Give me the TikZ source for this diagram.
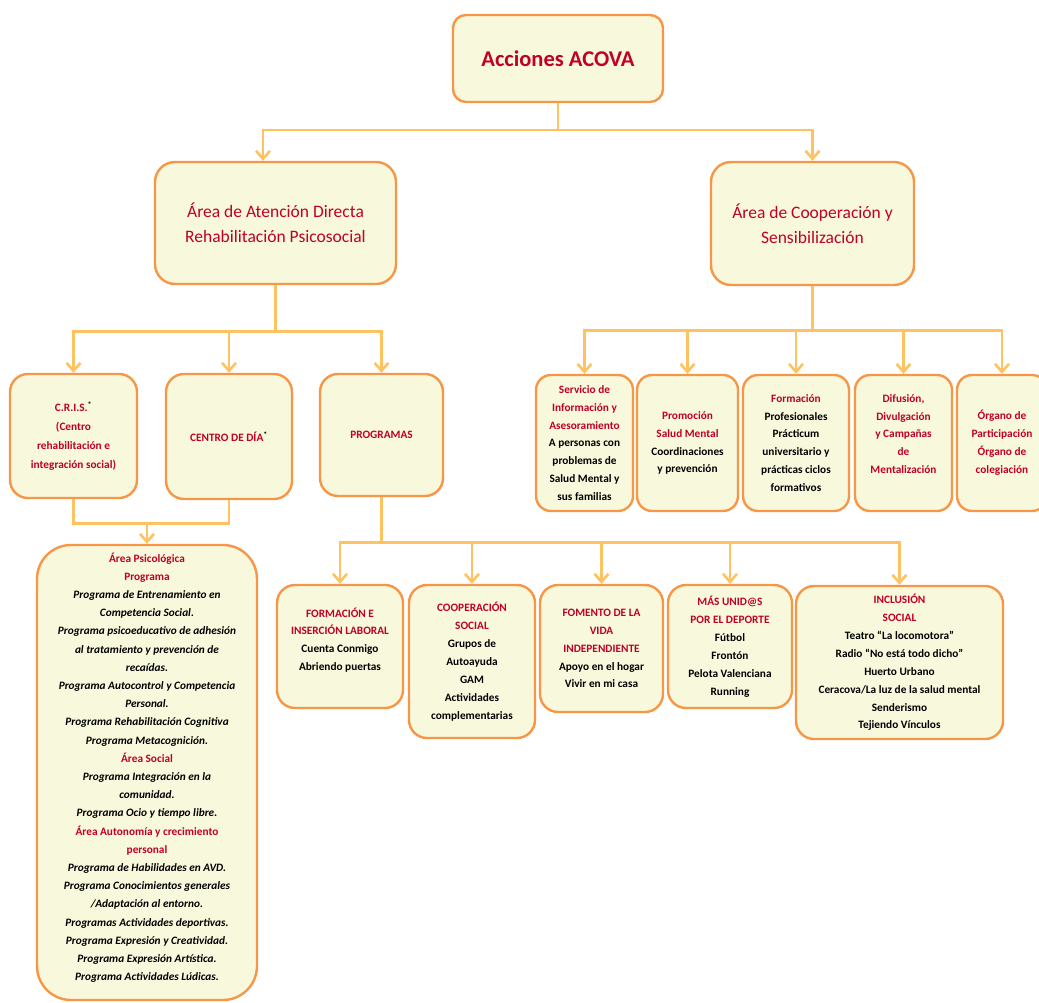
\documentclass[tikz,border=0pt]{standalone}
\usepackage{fontspec}
\setmainfont{Carlito}
\usetikzlibrary{arrows.meta,calc}
\definecolor{acfill}{RGB}{248,249,220}
\definecolor{acborder}{RGB}{247,150,70}
\definecolor{acline}{RGB}{255,194,96}
\definecolor{acred}{RGB}{192,0,36}
\newcommand{\redt}[1]{\textcolor{acred}{#1}}
\newcommand{\itl}[1]{\textit{#1}}
\tikzset{
  box/.style={draw=acborder, fill=acfill, line width=2.4pt, rounded corners=15pt,
    align=center, inner sep=2pt, font=\bfseries\fontsize{11.3}{17.9}\selectfont},
  txt/.style={align=center, inner sep=0pt, font=\bfseries\fontsize{11.3}{17.9}\selectfont},
  conn/.style={draw=acline, line width=2.6pt},
  arr/.style={conn, -{Straight Barb[length=8pt,width=14pt]}}
}
\begin{document}
\begin{tikzpicture}[x=1pt,y=-1pt]
\useasboundingbox (0,0) rectangle (1039,1003);
\clip (0,0) rectangle (1039,1003);
% top
\node[box, rounded corners=13pt, minimum width=210pt, minimum height=87pt, font=\bfseries\fontsize{22.5}{26}\selectfont, text=acred] (top) at (558,58.5) {Acciones ACOVA};
% areas
\node[box, rounded corners=20pt, minimum width=241pt, minimum height=122pt, font=\fontsize{17.5}{25}\selectfont, text=acred] (area1) at (275.5,223) {Área de Atención Directa\\Rehabilitación Psicosocial};
\node[box, rounded corners=20pt, minimum width=203pt, minimum height=123pt, font=\fontsize{17.5}{25}\selectfont, text=acred] (area2) at (812.5,223.5) {Área de Cooperación y\\Sensibilización};
% level 3 left
\node[box, rounded corners=18pt, minimum width=127pt, minimum height=124pt, text=acred, font=\bfseries\fontsize{11.3}{19}\selectfont] (cris) at (73.5,436) {C.R.I.S.\textsuperscript{\textcolor{black}{*}}\\(Centro\\rehabilitación e\\integración social)};
\node[box, rounded corners=18pt, minimum width=126pt, minimum height=125pt, text=acred] (cdia) at (229,436.5) {CENTRO DE DÍA\textsuperscript{\textcolor{black}{*}}};
\node[box, rounded corners=18pt, minimum width=123pt, minimum height=122pt, text=acred] (prog) at (381.5,435) {PROGRAMAS};
% level 3 right
\node[box, minimum width=97pt, minimum height=136pt] (serv) at (584.5,443) {\redt{Servicio de}\\\redt{Información y}\\\redt{Asesoramiento}\\A personas con\\problemas de\\Salud Mental y\\sus familias};
\node[box, minimum width=101pt, minimum height=136pt] (prom) at (687.5,443) {\redt{Promoción}\\\redt{Salud Mental}\\Coordinaciones\\y prevención};
\node[box, minimum width=106pt, minimum height=136pt] (form) at (796,443) {\redt{Formación}\\Profesionales\\Prácticum\\universitario y\\prácticas ciclos\\formativos};
\node[box, minimum width=97pt, minimum height=136pt] (difu) at (903.5,443) {};
\node[txt, text=acred] (difut) at (903.5,434) {Difusión,\\Divulgación\\y Campañas\\de\\Mentalización};
\node[box, minimum width=90pt, minimum height=136pt, text=acred] (organo) at (1002,443) {Órgano de\\Participación\\Órgano de\\colegiación};
% big left box
\node[box, rounded corners=34pt, minimum width=220pt, minimum height=455pt] (psico) at (147,772.5) {};
\node[txt, font=\bfseries\fontsize{11.3}{18.2}\selectfont] (psicot) at (147,767.5) {\redt{Área Psicológica}\\\redt{Programa}\\
\itl{Programa de Entrenamiento en}\\\itl{Competencia Social.}\\
\itl{Programa psicoeducativo de adhesión}\\\itl{al tratamiento y prevención de}\\\itl{recaídas.}\\
\itl{Programa Autocontrol y Competencia}\\\itl{Personal.}\\
\itl{Programa Rehabilitación Cognitiva}\\\itl{Programa Metacognición.}\\
\redt{Área Social}\\
\itl{Programa Integración en la}\\\itl{comunidad.}\\
\itl{Programa Ocio y tiempo libre.}\\
\redt{Área Autonomía y crecimiento}\\\redt{personal}\\
\itl{Programa de Habilidades en AVD.}\\
\itl{Programa Conocimientos generales}\\\itl{/Adaptación al entorno.}\\
\itl{Programas Actividades deportivas.}\\
\itl{Programa Expresión y Creatividad.}\\
\itl{Programa Expresión Artística.}\\
\itl{Programa Actividades Lúdicas.}};
% programs row
\node[box, rounded corners=18pt, minimum width=126pt, minimum height=123pt] (fil) at (340,646.5) {};
\node[txt] (filt) at (340,640) {\redt{FORMACIÓN E}\\\redt{INSERCIÓN LABORAL}\\Cuenta Conmigo\\Abriendo puertas};
\node[box, rounded corners=18pt, minimum width=126pt, minimum height=153pt] (coop) at (472,661.5) {\redt{COOPERACIÓN}\\\redt{SOCIAL}\\Grupos de\\Autoayuda\\GAM\\Actividades\\complementarias};
\node[box, rounded corners=18pt, minimum width=123pt, minimum height=127pt] (fom) at (601.5,648.5) {\redt{FOMENTO DE LA}\\\redt{VIDA}\\\redt{INDEPENDIENTE}\\Apoyo en el hogar\\Vivir en mi casa};
\node[box, rounded corners=18pt, minimum width=124pt, minimum height=123pt] (mas) at (730,646.5) {\redt{MÁS UNID@S}\\\redt{POR EL DEPORTE}\\Fútbol\\Frontón\\Pelota Valenciana\\Running};
\node[box, rounded corners=18pt, minimum width=207pt, minimum height=153pt] (incl) at (899.5,662.5) {\redt{INCLUSIÓN}\\\redt{SOCIAL}\\Teatro “La locomotora”\\Radio “No está todo dicho”\\Huerto Urbano\\Ceracova/La luz de la salud mental\\Senderismo\\Tejiendo Vínculos};
% connectors
\coordinate (b0) at ($(top.south)+(0,27)$);
\draw[conn] (top.south) -- (b0);
\draw[arr] (b0) -| ([xshift=-12.5pt]area1.north);
\draw[arr] (b0) -| (area2.north);
\coordinate (b1) at ($(area1.south)+(0,46)$);
\draw[conn] (area1.south) -- (b1);
\draw[arr] (b1) -| (cris.north);
\draw[arr] (b1) -| (cdia.north);
\draw[arr] (b1) -| (prog.north);
\coordinate (b2) at ($(area2.south)+(0,44)$);
\draw[conn] (area2.south) -- (b2);
\foreach \n in {serv,prom,form,difu,organo} \draw[arr] (b2) -| (\n.north);
\coordinate (b3) at ($(cris.south)+(0,24)$);
\draw[conn] (cris.south) -- (b3) -| (cdia.south);
\draw[arr] (b3 -| psico.north) -- (psico.north);
\coordinate (b4) at ($(prog.south)+(0,45)$);
\draw[conn] (prog.south) -- (b4);
\foreach \n in {fil,coop,fom,mas,incl} \draw[arr] (b4) -| (\n.north);
\end{tikzpicture}
\end{document}
